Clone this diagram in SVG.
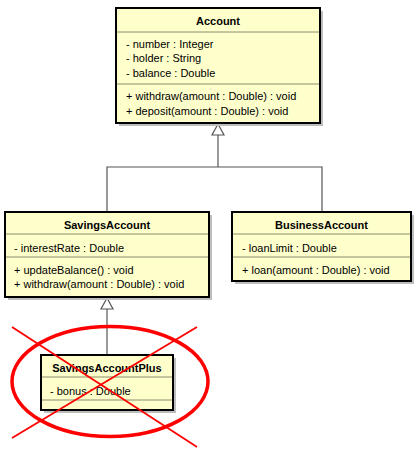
<svg xmlns="http://www.w3.org/2000/svg" width="418" height="458" viewBox="0 0 418 458">
<defs>
<style>
.box{fill:#FFFFCC;stroke:#000;stroke-width:2}
.shadow{fill:#bdbdbd}
.sep{stroke:#8c8c6e;stroke-width:1}
.name{font-family:"Liberation Sans",Arial,sans-serif;font-size:11px;font-weight:bold;fill:#000;text-anchor:middle}
.mem{font-family:"Liberation Sans",Arial,sans-serif;font-size:11px;fill:#000}
.conn{stroke:#555;stroke-width:1.2;fill:none}
.head{fill:#fff;stroke:#555;stroke-width:1.2}
.red{stroke:#ff0000;fill:none}
</style>
</defs>
<g id="connectors">
<polyline class="conn" points="218,135 218,167"/>
<polyline class="conn" points="107,212 107,167 322,167 322,212"/>
<polygon class="head" points="218,124 212,135 224,135"/>
<polyline class="conn" points="107,309 107,355"/>
<polygon class="head" points="107,298 101,309 113,309"/>
</g>
<g id="Account">
<rect class="shadow" x="119" y="11" width="204" height="115"/>
<rect class="box" x="116" y="8" width="204" height="115"/>
<line class="sep" x1="117" y1="32" x2="319" y2="32"/>
<line class="sep" x1="117" y1="84" x2="319" y2="84"/>
<text class="name" x="218" y="25">Account</text>
<text class="mem" x="126" y="48">- number : Integer</text>
<text class="mem" x="126" y="62">- holder : String</text>
<text class="mem" x="126" y="77">- balance : Double</text>
<text class="mem" x="126" y="100">+ withdraw(amount : Double) : void</text>
<text class="mem" x="126" y="115">+ deposit(amount : Double) : void</text>
</g>
<g id="SavingsAccount">
<rect class="shadow" x="8" y="215" width="204" height="85"/>
<rect class="box" x="5" y="212" width="204" height="85"/>
<line class="sep" x1="6" y1="234" x2="208" y2="234"/>
<line class="sep" x1="6" y1="257" x2="208" y2="257"/>
<text class="name" x="107" y="229">SavingsAccount</text>
<text class="mem" x="14" y="252">- interestRate : Double</text>
<text class="mem" x="14" y="274">+ updateBalance() : void</text>
<text class="mem" x="14" y="288">+ withdraw(amount : Double) : void</text>
</g>
<g id="BusinessAccount">
<rect class="shadow" x="235" y="215" width="179" height="69"/>
<rect class="box" x="232" y="212" width="179" height="69"/>
<line class="sep" x1="233" y1="234" x2="410" y2="234"/>
<line class="sep" x1="233" y1="257" x2="410" y2="257"/>
<text class="name" x="321.5" y="229">BusinessAccount</text>
<text class="mem" x="242" y="252">- loanLimit : Double</text>
<text class="mem" x="242" y="274">+ loan(amount : Double) : void</text>
</g>
<g id="SavingsAccountPlus">
<rect class="shadow" x="44" y="358" width="132" height="55"/>
<rect class="box" x="41" y="355" width="132" height="55"/>
<line class="sep" x1="42" y1="377" x2="172" y2="377"/>
<line class="sep" x1="42" y1="400" x2="172" y2="400"/>
<text class="name" x="107" y="372">SavingsAccountPlus</text>
<text class="mem" x="50" y="395">- bonus : Double</text>
</g>
<g id="crossout">
<ellipse class="red" cx="110" cy="381.5" rx="98" ry="55" stroke-width="3.5"/>
<line class="red" x1="12" y1="327" x2="197" y2="447" stroke-width="1.8"/>
<line class="red" x1="197" y1="327" x2="12" y2="438" stroke-width="1.8"/>
</g>
</svg>
